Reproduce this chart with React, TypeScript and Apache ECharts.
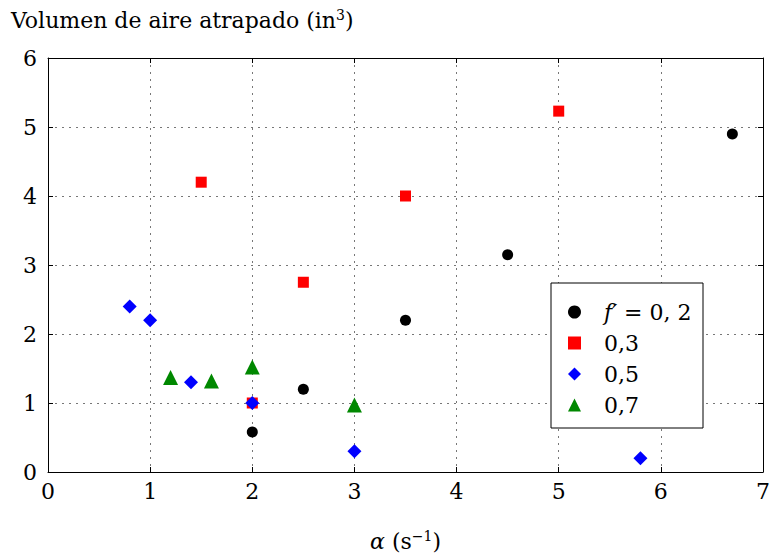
import React, { useEffect, useRef } from "react";
import * as echarts from "echarts";

const seriesNames = ["f02", "0,3", "0,5", "0,7"];
const blackCircles = [[2, 0.58], [2.5, 1.2], [3.5, 2.2], [4.5, 3.15], [6.7, 4.9]];
const redSquares = [[1.5, 4.2], [2, 1.0], [2.5, 2.75], [3.5, 4.0], [5, 5.23]];
const blueDiamonds = [[0.8, 2.4], [1.0, 2.2], [1.4, 1.3], [2.0, 1.0], [3.0, 0.3], [5.8, 0.2]];
const greenTriangles = [[1.2, 1.37], [1.6, 1.32], [2.0, 1.52], [3.0, 0.97]];

const FONT = "DejaVu Serif";
const FS = 22;

export default function App() {
  const ref = useRef<HTMLDivElement>(null);
  useEffect(() => {
    const chart = echarts.init(ref.current!, null, { renderer: "svg" });
    const axisCommon = {
      min: 0,
      interval: 1,
      axisLine: { show: true, onZero: false, lineStyle: { color: "#000", width: 1 } },
      axisTick: { show: true, inside: true, length: 5, lineStyle: { color: "#000" } },
    };
    const sup = { fontFamily: FONT, fontSize: 14, verticalAlign: "top", padding: [0, 0, 11, 0], color: "#000" };
    chart.setOption({
      animation: false,
      backgroundColor: "#fff",
      title: {
        text: "Volumen de aire atrapado (in{sup|3})",
        left: 6,
        top: 3,
        textStyle: {
          fontFamily: FONT,
          fontSize: FS,
          fontWeight: "normal",
          color: "#000",
          rich: { sup },
        },
      },
      grid: { left: 48, right: 8, top: 58, bottom: 86, containLabel: false },
      xAxis: [
        {
          ...axisCommon,
          type: "value",
          max: 7,
          position: "bottom",
          axisLabel: { fontFamily: FONT, fontSize: FS, color: "#000", margin: 8 },
          splitLine: { show: true, lineStyle: { color: "#777", type: [2, 5], width: 1 } },
          name: "{a|α} (s{sup|−1})",
          nameLocation: "middle",
          nameGap: 57,
          nameTextStyle: {
            fontFamily: FONT,
            fontSize: FS,
            color: "#000",
            rich: {
              a: { fontFamily: FONT, fontSize: FS, fontStyle: "italic", color: "#000" },
              sup,
            },
          },
        },
        {
          ...axisCommon,
          type: "value",
          max: 7,
          position: "top",
          axisLabel: { show: false },
          splitLine: { show: false },
        },
      ],
      yAxis: [
        {
          ...axisCommon,
          type: "value",
          max: 6,
          position: "left",
          axisLabel: { fontFamily: FONT, fontSize: FS, color: "#000", margin: 11 },
          splitLine: { show: true, lineStyle: { color: "#777", type: [2, 5], width: 1 } },
        },
        {
          ...axisCommon,
          type: "value",
          max: 6,
          position: "right",
          axisLabel: { show: false },
          splitLine: { show: false },
        },
      ],
      legend: {
        orient: "vertical",
        left: 563,
        top: 296,
        z: 10,
        itemWidth: 13,
        itemHeight: 13,
        itemGap: 9,
        data: seriesNames,
        formatter: (name: string) => (name === "f02" ? "{i|f′} = 0, 2" : name),
        textStyle: {
          fontFamily: FONT,
          fontSize: FS,
          color: "#000",
          padding: [0, 0, 0, 18],
          rich: {
            i: { fontFamily: FONT, fontSize: FS, fontStyle: "italic", color: "#000" },
          },
        },
      },
      graphic: [
        {
          type: "rect",
          shape: { x: 551, y: 283, width: 152, height: 145 },
          style: { fill: "#fff", stroke: "#000", lineWidth: 1 },
          z: 5,
        },
      ],
      series: [
        { name: "f02", type: "scatter", data: blackCircles, symbol: "circle", symbolSize: 11, itemStyle: { color: "#000", opacity: 1 }, z: 3 },
        { name: "0,3", type: "scatter", data: redSquares, symbol: "rect", symbolSize: 11, itemStyle: { color: "#f00", opacity: 1 }, z: 3 },
        { name: "0,5", type: "scatter", data: blueDiamonds, symbol: "diamond", symbolSize: 14, itemStyle: { color: "#00f", opacity: 1 }, z: 4 },
        { name: "0,7", type: "scatter", data: greenTriangles, symbol: "triangle", symbolSize: 15, itemStyle: { color: "#080", opacity: 1 }, z: 3 },
      ],
    });
    return () => chart.dispose();
  }, []);
  return <div ref={ref} style={{ width: 773, height: 558, position: "absolute", left: 0, top: 0 }} />;
}
